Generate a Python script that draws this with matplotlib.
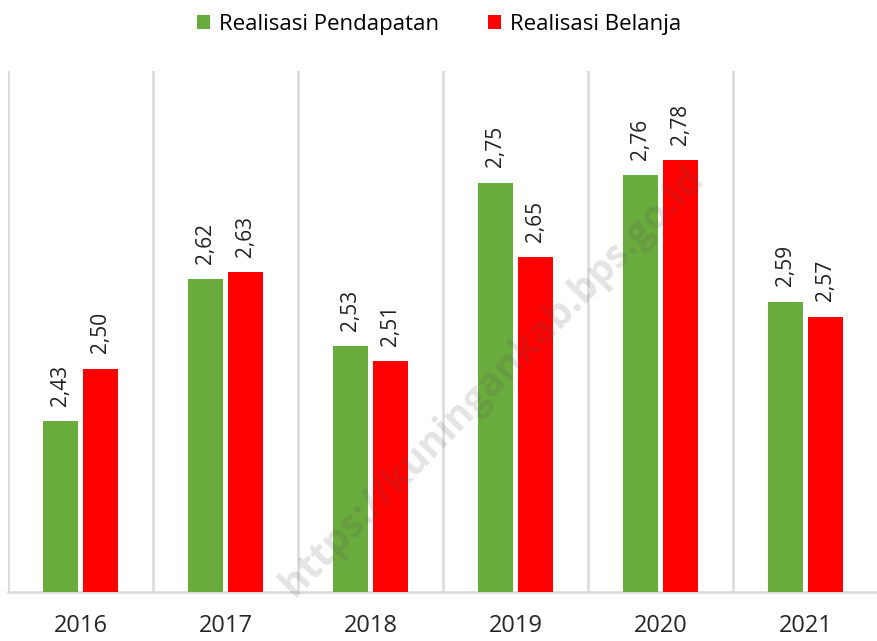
import numpy as np
import matplotlib.pyplot as plt

# data
years = ["2016", "2017", "2018", "2019", "2020", "2021"]
pendapatan = [2.43, 2.62, 2.53, 2.75, 2.76, 2.59]
belanja = [2.50, 2.63, 2.51, 2.65, 2.78, 2.57]

GREEN = "#6aab3e"
RED = "#ff0000"
GRID = "#d9d9d9"

plt.rcParams['font.family'] = ['Open Sans', 'DejaVu Sans']

fig = plt.figure(figsize=(8.78, 6.41), dpi=100)
ax = fig.add_axes([8 / 878, 49 / 641, 870 / 878, 521 / 641])

x = np.arange(len(years))
width = 0.24
gap = 0.04
off = (width + gap) / 2

b1 = ax.bar(x - off, pendapatan, width, color=GREEN, label="Realisasi Pendapatan", zorder=3)
b2 = ax.bar(x + off, belanja, width, color=RED, label="Realisasi Belanja", zorder=3)

# value labels, rotated like the original
for bars, vals in [(b1, pendapatan), (b2, belanja)]:
    for bar, v in zip(bars, vals):
        ax.annotate(f"{v:.2f}".replace(".", ","),
                    (bar.get_x() + bar.get_width() / 2, bar.get_height()),
                    xytext=(0, 11), textcoords="offset points",
                    rotation=90, ha="center", va="bottom", fontsize=15, color="#202020")

ax.set_ylim(2.2, 2.9)
ax.set_xlim(-0.5, len(years) - 0.5)

# vertical separators between categories
for b in np.arange(-0.5, len(years) + 0.5, 1.0):
    ax.axvline(b, color=GRID, lw=1.8, zorder=1)

ax.set_xticks(x)
ax.set_xticklabels(years, fontsize=17, color="#262626")
ax.tick_params(axis="x", length=0, pad=16)
ax.set_yticks([])
for s in ["top", "right", "left"]:
    ax.spines[s].set_visible(False)
ax.spines["bottom"].set_color(GRID)
ax.spines["bottom"].set_linewidth(1.8)

fig.legend(handles=[b1, b2], loc="upper center", bbox_to_anchor=(0.5, 1.01), ncol=2,
           frameon=False, fontsize=16, handlelength=0.6, handleheight=0.6,
           handletextpad=0.4, columnspacing=2.2)

# watermark across the plot
fig.text(0.561, 0.404, "https://kuningankab.bps.go.id", rotation=45.5, fontsize=28,
         fontweight="bold", color="#555555", alpha=0.16, ha="center", va="center",
         zorder=10)

fig.savefig("out.png", dpi=100)
